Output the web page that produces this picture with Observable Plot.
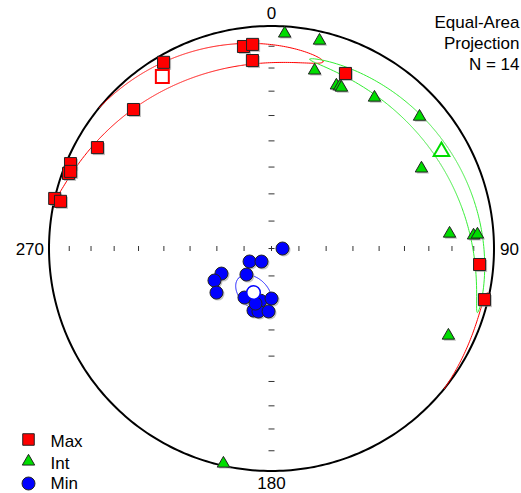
<!DOCTYPE html>
<html><head><meta charset="utf-8">
<script src="https://cdn.jsdelivr.net/npm/d3@7"></script>
<script src="https://cdn.jsdelivr.net/npm/@observablehq/plot@0.6"></script>
<style>body{margin:0;background:#fff}#chart{width:521px;height:493px}</style>
</head><body><div id="chart"></div>
<script>
// Principal axes (trend, plunge in degrees), lower-hemisphere
const maxTrend  = [352.1, 354.7, 354.2, 329.9, 315.2, 300.1, 292.9, 290.3, 291.0, 283.0, 282.6, 22.9, 94.4, 103.5];
const maxPlunge = [9.2, 8.7, 16.2, 3.7, 13.0, 10.5, 2.2, 3.1, 3.7, 0.0, 3.2, 15.7, 6.9, 1.8];
const intTrend  = [3.5, 13.0, 13.6, 21.7, 22.8, 23.5, 34.3, 48.3, 61.9, 85.2, 86.3, 86.1, 116.2, 192.6];
const intPlunge = [3.6, 4.6, 18.8, 22.2, 22.1, 22.2, 19.0, 11.9, 24.6, 20.8, 9.9, 8.0, 12.4, 1.1];
const minTrend  = [90.0, 239.4, 217.6, 243.4, 240.7, 231.3, 223.9, 208.9, 191.9, 180.0, 196.2, 191.7, 182.7, 196.2];
const minPlunge = [86.0, 80.7, 84.0, 69.5, 66.0, 64.1, 76.8, 69.5, 70.5, 71.7, 66.3, 66.4, 66.9, 69.0];
// Mean directions and confidence ellipses
const meanNames  = ["Max", "Int", "Min"];
const meanTrend  = [327.6, 60.3, 202.2];
const meanPlunge = [9.3, 13.1, 72.6];
const ellipseToward = [[16.2, 14.0], [11.7, 14.3], [225.0, 74.0]]; // direction of major semi-axis
const ellipseSemiAxes = [[47.0, 6.0], [47.4, 3.5], [7.5, 5.2]];    // degrees
// Frame
const directionLabels = ["0", "90", "180", "270"];
const tickPlunges = [10, 20, 30, 40, 50, 60, 70, 80];

const rad = Math.PI / 180;
const proj = (t, p) => {
  const r = Math.SQRT2 * Math.sin((90 - p) / 2 * rad);
  return {x: r * Math.sin(t * rad), y: r * Math.cos(t * rad)};
};
const vec = (t, p) => [Math.cos(p*rad)*Math.cos(t*rad), Math.cos(p*rad)*Math.sin(t*rad), Math.sin(p*rad)];
const dotp = (a, b) => a[0]*b[0] + a[1]*b[1] + a[2]*b[2];
const cross = (a, b) => [a[1]*b[2]-a[2]*b[1], a[2]*b[0]-a[0]*b[2], a[0]*b[1]-a[1]*b[0]];
const projVec = ([n, e, d]) => {
  const h = Math.hypot(n, e), r = Math.sqrt(Math.max(0, 1 - d));
  return h < 1e-12 ? {x: 0, y: 0} : {x: r * e / h, y: r * n / h};
};
function ellipse(i) {
  const M = vec(meanTrend[i], meanPlunge[i]);
  const T = vec(...ellipseToward[i]);
  const k = dotp(T, M);
  let U = T.map((c, j) => c - k * M[j]);
  const nu = Math.hypot(...U); U = U.map(c => c / nu);
  const V = cross(M, U);
  const [a, b] = ellipseSemiAxes[i].map(d => d * rad);
  const pts = []; let prev = null;
  const N = 1440;
  for (let s = 0; s <= N; s++) {
    const th = s / N * 2 * Math.PI;
    const rho = a * b / Math.hypot(b * Math.cos(th), a * Math.sin(th));
    let P = M.map((c, j) => Math.cos(rho) * c + Math.sin(rho) * (Math.cos(th) * U[j] + Math.sin(th) * V[j]));
    const flip = P[2] < 0;
    if (flip) P = P.map(c => -c);
    if (prev !== null && flip !== prev) pts.push({x: NaN, y: NaN});
    prev = flip;
    pts.push(projVec(P));
  }
  return pts;
}

const maxPts = maxTrend.map((t, i) => proj(t, maxPlunge[i]));
const intPts = intTrend.map((t, i) => proj(t, intPlunge[i]));
const minPts = minTrend.map((t, i) => proj(t, minPlunge[i]));
const meanPts = meanTrend.map((t, i) => ({...proj(t, meanPlunge[i]), name: meanNames[i]}));
const primitive = d3.range(0, 361, 1).map(t => proj(t, 0));
const hTicks = [];
const vTicks = [];
for (const az of [0, 180]) for (const p of tickPlunges) hTicks.push(proj(az, p));
for (const az of [90, 270]) for (const p of tickPlunges) vTicks.push(proj(az, p));
hTicks.push(proj(0, 90)); vTicks.push(proj(0, 90));

const vTickSym = {draw(ctx) { ctx.moveTo(0, -2.5); ctx.lineTo(0, 2.5); }};
const hTickSym = {draw(ctx) { ctx.moveTo(-3, 0); ctx.lineTo(3, 0); }};

const RED = "#ff0000", GREEN = "#00dd00", BLUE = "#0000ff", EDGE = "#222";
const colors = [RED, "#33ee33", BLUE];
const cx = 271, cy = 248, R = 222.5;

const labelCfg = {
  "0":   {t: 0,   dx: 0,  dy: -12, textAnchor: "middle"},
  "90":  {t: 90,  dx: 6,  dy: 1,   textAnchor: "start"},
  "180": {t: 180, dx: 0,  dy: 13,  textAnchor: "middle"},
  "270": {t: 270, dx: -5, dy: 1,   textAnchor: "end"}
};

const shadow = (data, symbol, r) => Plot.dot(data, {x: "x", y: "y", symbol, r, fill: "#999", fillOpacity: 0.6, stroke: "none", dx: 1.5, dy: 1.5});

const legend = [
  {name: "Max", symbol: "square", r: 6.5, fill: RED, dy: 439},
  {name: "Int", symbol: "triangle", r: 4.6, fill: GREEN, dy: 461},
  {name: "Min", symbol: "circle", r: 6.5, fill: BLUE, dy: 483}
];

const chart = Plot.plot({
  width: 521, height: 493, margin: 0,
  x: {domain: [-1, 1], range: [cx - R, cx + R], axis: null},
  y: {domain: [-1, 1], range: [cy + R, cy - R], axis: null},
  style: {fontFamily: "Liberation Sans, Arial, sans-serif", fontSize: "17px", background: "white", color: "black"},
  marks: [
    Plot.dot(hTicks, {x: "x", y: "y", symbol: hTickSym, stroke: "#333", strokeWidth: 1, fill: "none"}),
    Plot.dot(vTicks, {x: "x", y: "y", symbol: vTickSym, stroke: "#333", strokeWidth: 1, fill: "none"}),
    Plot.line(primitive, {x: "x", y: "y", stroke: "black", strokeWidth: 2}),
    ...meanNames.map((n, i) => Plot.line(ellipse(i), {x: "x", y: "y", stroke: colors[i], strokeWidth: 1})),
    shadow(maxPts, "square", 6.8),
    Plot.dot(maxPts, {x: "x", y: "y", symbol: "square", r: 6.8, fill: RED, stroke: EDGE, strokeWidth: 1}),
    shadow(intPts, "triangle", 4.6),
    Plot.dot(intPts, {x: "x", y: "y", symbol: "triangle", r: 4.6, fill: GREEN, stroke: EDGE, strokeWidth: 1}),
    shadow(minPts, "circle", 6.5),
    Plot.dot(minPts, {x: "x", y: "y", symbol: "circle", r: 6.5, fill: BLUE, stroke: EDGE, strokeWidth: 1}),
    Plot.dot(meanPts.slice(0, 1), {x: "x", y: "y", symbol: "square", r: 7.3, fill: "white", stroke: RED, strokeWidth: 2}),
    Plot.dot(meanPts.slice(1, 2), {x: "x", y: "y", symbol: "triangle", r: 5.8, fill: "white", stroke: GREEN, strokeWidth: 2}),
    Plot.dot(meanPts.slice(2, 3), {x: "x", y: "y", symbol: "circle", r: 6.8, fill: "white", stroke: BLUE, strokeWidth: 1.5}),
    ...directionLabels.map(l => {
      const c = labelCfg[l], p = proj(c.t, 0);
      return Plot.text([l], {x: () => p.x, y: () => p.y, text: d => d, dx: c.dx, dy: c.dy, textAnchor: c.textAnchor, lineAnchor: "middle", fill: "black"});
    }),
    Plot.text([`Equal-Area\nProjection\nN = ${maxTrend.length}`], {frameAnchor: "top-right", dx: -2, dy: 42, textAnchor: "end", lineAnchor: "middle", lineHeight: 1.24, fill: "black"}),
    ...legend.map(L => Plot.dot([L], {frameAnchor: "top-left", dx: 28, dy: L.dy, symbol: L.symbol, r: L.r, fill: L.fill, stroke: EDGE, strokeWidth: 1})),
    ...legend.map(L => Plot.text([L], {frameAnchor: "top-left", dx: 50, dy: Math.min(L.dy + 2, 483), text: "name", textAnchor: "start", lineAnchor: "middle", fill: "black"}))
  ]
});
document.getElementById("chart").append(chart);
</script>
</body></html>
